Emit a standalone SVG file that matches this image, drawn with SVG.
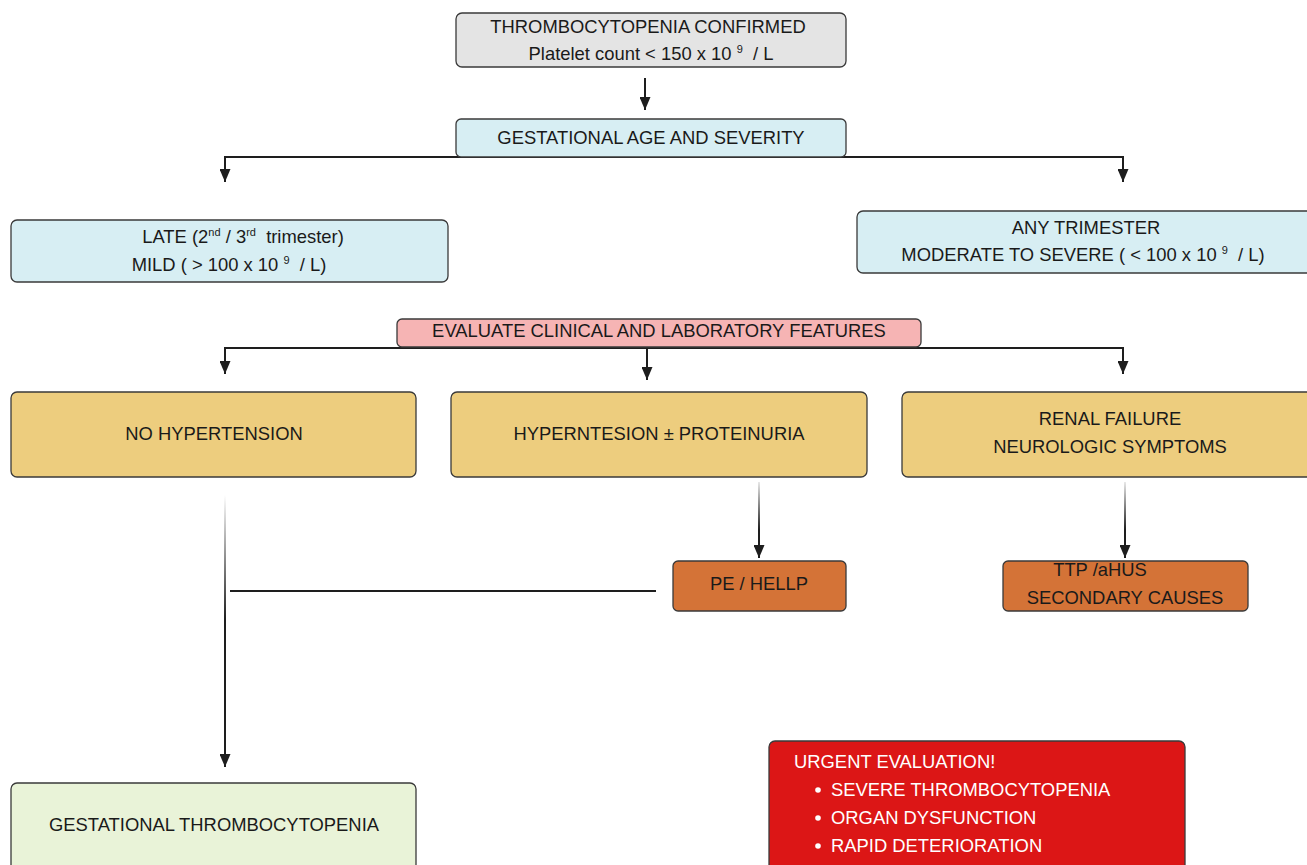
<svg xmlns="http://www.w3.org/2000/svg" width="1307" height="865" viewBox="0 0 1307 865">
<style>
.box{stroke:#3a3a3a;stroke-width:1.3}
.grey{fill:#e4e4e4}
.blue{fill:#d7eef3}
.pink{fill:#f6b4b4}
.yel{fill:#edcd7e}
.org{fill:#d47337}
.grn{fill:#e9f3d8}
.red{fill:#dc1616}
text{font-family:"Liberation Sans",Arial,sans-serif;font-size:18.4px;fill:#1a1a1a;text-anchor:middle;white-space:pre}
.w{fill:#ffffff;text-anchor:start}
.sup{font-size:11px}
.con{fill:none;stroke:#1e1e1e;stroke-width:2}
</style>
<defs>
<marker id="ad" viewBox="0 0 11 13" refX="5.5" refY="13" markerWidth="11" markerHeight="13" markerUnits="userSpaceOnUse" orient="0">
<path d="M0,0 L11,0 L5.5,13 Z" fill="#1e1e1e"/>
</marker>
<linearGradient id="g1" gradientUnits="userSpaceOnUse" x1="0" y1="482" x2="0" y2="530">
<stop offset="0" stop-color="#1e1e1e" stop-opacity="0.1"/>
<stop offset="1" stop-color="#1e1e1e" stop-opacity="1"/>
</linearGradient>
<linearGradient id="g2" gradientUnits="userSpaceOnUse" x1="0" y1="495" x2="0" y2="620">
<stop offset="0" stop-color="#1e1e1e" stop-opacity="0"/>
<stop offset="1" stop-color="#1e1e1e" stop-opacity="1"/>
</linearGradient>
</defs>
<rect width="1307" height="865" fill="#ffffff"/>

<g id="connectors">
<line class="con" x1="645" y1="78" x2="645" y2="110" marker-end="url(#ad)"/>
<polyline class="con" points="225,182 225,157 1123,157 1123,182" marker-start="url(#ad)" marker-end="url(#ad)"/>
<polyline class="con" points="225,374 225,348 1123,348 1123,374" marker-start="url(#ad)" marker-end="url(#ad)"/>
<line class="con" x1="647" y1="348" x2="647" y2="380" marker-end="url(#ad)"/>
<line class="con" x1="759" y1="482" x2="759" y2="558" style="stroke:url(#g1)" marker-end="url(#ad)"/>
<line class="con" x1="1125" y1="482" x2="1125" y2="558" style="stroke:url(#g1)" marker-end="url(#ad)"/>
<line class="con" x1="225" y1="495" x2="225" y2="767" style="stroke:url(#g2)" marker-end="url(#ad)"/>
<line class="con" x1="230" y1="591" x2="656" y2="591"/>
</g>

<g id="n-confirmed">
<rect class="box grey" x="456" y="13" width="390" height="54" rx="6"/>
<text x="648" y="33">THROMBOCYTOPENIA CONFIRMED</text>
<text x="651" y="60" xml:space="preserve">Platelet count &lt; 150 x 10 <tspan class="sup" dy="-7">9</tspan><tspan dy="7">  / L</tspan></text>
</g>

<g id="n-gestational-age">
<rect class="box blue" x="456" y="119" width="390" height="38" rx="5"/>
<text x="651" y="144">GESTATIONAL AGE AND SEVERITY</text>
</g>

<g id="n-late">
<rect class="box blue" x="11" y="220" width="437" height="62" rx="6"/>
<text x="243" y="243" xml:space="preserve">LATE (2<tspan class="sup" dy="-7">nd</tspan><tspan dy="7"> / 3</tspan><tspan class="sup" dy="-7">rd</tspan><tspan dy="7">  trimester)</tspan></text>
<text x="229" y="271" xml:space="preserve">MILD ( &gt; 100 x 10 <tspan class="sup" dy="-7">9</tspan><tspan dy="7">  / L)</tspan></text>
</g>

<g id="n-any">
<rect class="box blue" x="857" y="211" width="460" height="62" rx="6"/>
<text x="1086" y="234">ANY TRIMESTER</text>
<text x="1083" y="261" xml:space="preserve">MODERATE TO SEVERE ( &lt; 100 x 10 <tspan class="sup" dy="-7">9</tspan><tspan dy="7">  / L)</tspan></text>
</g>

<g id="n-evaluate">
<rect class="box pink" x="397" y="319" width="524" height="28" rx="5"/>
<text x="659" y="337">EVALUATE CLINICAL AND LABORATORY FEATURES</text>
</g>

<g id="n-no-hypertension">
<rect class="box yel" x="11" y="392" width="405" height="85" rx="6"/>
<text x="214" y="440">NO HYPERTENSION</text>
</g>

<g id="n-hypertension">
<rect class="box yel" x="451" y="392" width="416" height="85" rx="6"/>
<text x="659" y="440">HYPERNTESION ± PROTEINURIA</text>
</g>

<g id="n-renal">
<rect class="box yel" x="902" y="392" width="420" height="85" rx="6"/>
<text x="1110" y="425">RENAL FAILURE</text>
<text x="1110" y="453">NEUROLOGIC SYMPTOMS</text>
</g>

<g id="n-pe-hellp">
<rect class="box org" x="673" y="561" width="173" height="50" rx="5"/>
<text x="759" y="590">PE / HELLP</text>
</g>

<g id="n-ttp">
<rect class="box org" x="1003" y="561" width="245" height="50" rx="5"/>
<text x="1100" y="576">TTP /aHUS</text>
<text x="1125" y="604">SECONDARY CAUSES</text>
</g>

<g id="n-gestational-thrombo">
<rect class="box grn" x="11" y="783" width="405" height="100" rx="6"/>
<text x="214" y="831">GESTATIONAL THROMBOCYTOPENIA</text>
</g>

<g id="n-urgent">
<rect class="box red" x="769" y="741" width="416" height="140" rx="6"/>
<text class="w" x="794" y="768">URGENT EVALUATION!</text>
<circle cx="818" cy="790" r="2.8" fill="#ffffff"/>
<text class="w" x="831" y="796">SEVERE THROMBOCYTOPENIA</text>
<circle cx="818" cy="818" r="2.8" fill="#ffffff"/>
<text class="w" x="831" y="824">ORGAN DYSFUNCTION</text>
<circle cx="818" cy="846" r="2.8" fill="#ffffff"/>
<text class="w" x="831" y="852">RAPID DETERIORATION</text>
</g>
</svg>
